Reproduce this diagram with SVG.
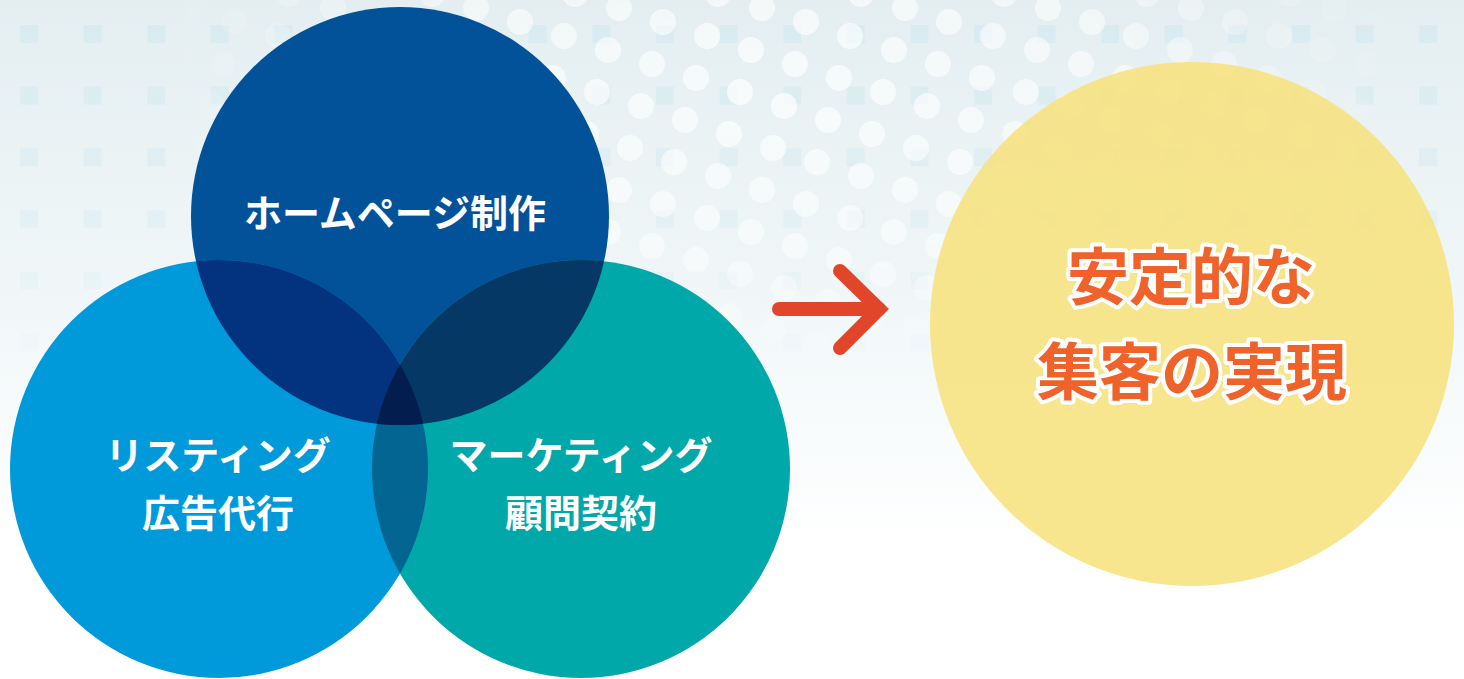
<svg xmlns="http://www.w3.org/2000/svg" width="1464" height="679" viewBox="0 0 1464 679">
<style>
.lbl{font-family:"Noto Sans CJK JP","Noto Sans CJK SC",sans-serif;font-weight:700;font-size:38px;fill:#fff;text-anchor:middle}
.goal{font-family:"Noto Sans CJK JP","Noto Sans CJK SC",sans-serif;font-weight:700;font-size:62px;fill:#EF6229;stroke:#fff;stroke-width:8;stroke-linejoin:round;paint-order:stroke;text-anchor:middle}
.dot{fill:#fff}
.arrow{fill:none;stroke:#E2462A;stroke-width:14;stroke-linecap:round}
</style>
<defs>
<linearGradient id="bg" x1="0" y1="0" x2="0" y2="679" gradientUnits="userSpaceOnUse">
<stop offset="0" stop-color="#E4EEF0"/>
<stop offset="0.45" stop-color="#F1F7F9"/>
<stop offset="0.8" stop-color="#FFFFFF"/>
</linearGradient>
<pattern id="sq" x="20" y="25" width="63.6" height="61.7" patternUnits="userSpaceOnUse">
<rect width="18" height="18" fill="#D4EAF1"/>
</pattern>
<pattern id="dots" x="520" y="22" width="143" height="182" patternUnits="userSpaceOnUse">
<g class="dot">
<circle cx="0" cy="0" r="13"/><circle cx="143" cy="0" r="13"/><circle cx="0" cy="182" r="13"/><circle cx="143" cy="182" r="13"/>
<circle cx="44" cy="14" r="13"/><circle cx="88" cy="28" r="13"/><circle cx="132" cy="42" r="13"/><circle cx="-11" cy="42" r="13"/>
<circle cx="33" cy="56" r="13"/><circle cx="77" cy="70" r="13"/><circle cx="121" cy="84" r="13"/><circle cx="22" cy="98" r="13"/>
<circle cx="66" cy="112" r="13"/><circle cx="110" cy="126" r="13"/><circle cx="11" cy="140" r="13"/><circle cx="154" cy="140" r="13"/>
<circle cx="55" cy="154" r="13"/><circle cx="99" cy="168" r="13"/><circle cx="99" cy="-14" r="13"/>
</g>
</pattern>
<radialGradient id="fadeDots" cx="780" cy="90" r="640" gradientUnits="userSpaceOnUse" gradientTransform="translate(780 90) scale(1 0.45) translate(-780 -90)">
<stop offset="0" stop-color="#fff" stop-opacity="0.7"/>
<stop offset="0.55" stop-color="#fff" stop-opacity="0.5"/>
<stop offset="1" stop-color="#fff" stop-opacity="0"/>
</radialGradient>
<linearGradient id="fadeSq" x1="0" y1="0" x2="0" y2="380" gradientUnits="userSpaceOnUse">
<stop offset="0" stop-color="#fff" stop-opacity="0.75"/>
<stop offset="0.6" stop-color="#fff" stop-opacity="0.35"/>
<stop offset="1" stop-color="#fff" stop-opacity="0"/>
</linearGradient>
<mask id="mDots" maskUnits="userSpaceOnUse" x="0" y="0" width="1464" height="679"><rect width="1464" height="679" fill="url(#fadeDots)"/></mask>
<mask id="mSq" maskUnits="userSpaceOnUse" x="0" y="0" width="1464" height="679"><rect width="1464" height="679" fill="url(#fadeSq)"/></mask>
<clipPath id="cT"><circle cx="400" cy="216" r="209"/></clipPath>
<clipPath id="cL"><circle cx="219" cy="469" r="209"/></clipPath>
<clipPath id="cR"><circle cx="581" cy="469" r="209"/></clipPath>
</defs>

<g id="background">
<rect width="1464" height="679" fill="url(#bg)"/>
<rect width="1464" height="679" fill="url(#sq)" mask="url(#mSq)"/>
<rect width="1464" height="679" fill="url(#dots)" mask="url(#mDots)"/>
</g>

<g id="node-web">
<circle cx="400" cy="216" r="209" fill="#02529A"/>
</g>
<g id="node-listing">
<circle cx="219" cy="469" r="209" fill="#0099D9"/>
</g>
<g id="node-marketing">
<circle cx="581" cy="469" r="209" fill="#00A8AA"/>
</g>
<g id="overlaps">
<circle cx="581" cy="469" r="209" fill="#026592" clip-path="url(#cL)"/>
<circle cx="219" cy="469" r="209" fill="#03327F" clip-path="url(#cT)"/>
<circle cx="581" cy="469" r="209" fill="#053864" clip-path="url(#cT)"/>
<g clip-path="url(#cT)"><circle cx="581" cy="469" r="209" fill="#031D4F" clip-path="url(#cL)"/></g>
</g>
<g id="labels">
<text class="lbl" x="395" y="227">ホームページ制作</text>
<text class="lbl" x="218" y="469">リスティング</text>
<text class="lbl" x="218" y="527">広告代行</text>
<text class="lbl" x="581" y="469">マーケティング</text>
<text class="lbl" x="581" y="527">顧問契約</text>
</g>

<g id="node-goal">
<circle cx="1192" cy="324" r="262" fill="#F7E27A" fill-opacity="0.85"/>
<text class="goal" x="1191" y="300">安定的な</text>
<text class="goal" x="1192" y="395">集客の実現</text>
</g>

<g id="connectors">
<path class="arrow" d="M779 309 H879"/>
<path class="arrow" d="M840 271 L879 309 L840 348" stroke-linejoin="miter"/>
</g>
</svg>
